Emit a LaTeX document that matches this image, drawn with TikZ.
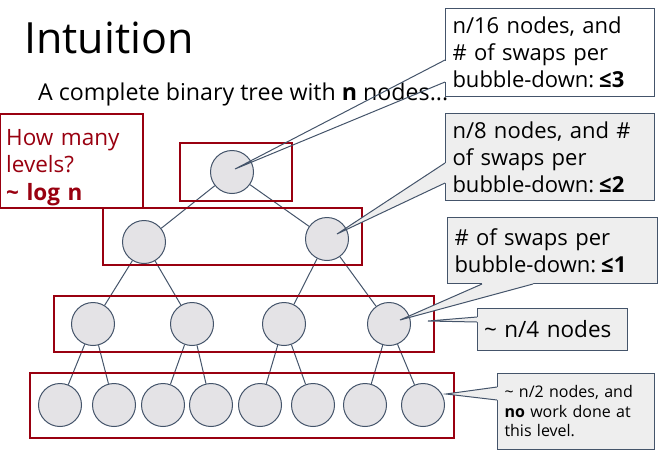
\documentclass[tikz,border=0pt]{standalone}
\usepackage{fontspec}
\setmainfont{Open Sans}
\usetikzlibrary{calc, positioning}
\definecolor{berry}{HTML}{990010}
\definecolor{slate}{HTML}{44546A}
\definecolor{bubble}{HTML}{E4E3E6}
\definecolor{notefill}{HTML}{EEEEEE}
\tikzset{
  treenode/.style={circle, draw=slate, line width=1pt, fill=bubble, minimum size=43pt, inner sep=0pt},
  levelbox/.style={draw=berry, line width=2.4pt},
  branch/.style={draw=slate, line width=1pt},
  notebox/.style={draw=slate, line width=1pt, fill=notefill, anchor=north west, align=left,
    inner xsep=7pt, inner ysep=0pt, font=\fontsize{22}{27}\selectfont},
  tail/.style={draw=slate, line width=1pt, line join=miter}
}

\begin{document}
\begin{tikzpicture}[x=1pt, y=-1pt]
  \useasboundingbox (0,0) rectangle (666,453);

  % title and subtitle
  \node[anchor=base west, inner sep=0pt, font=\fontsize{43}{50}\selectfont] (title) at (24,53) {Intuition};
  \node[anchor=base west, inner sep=0pt, font=\fontsize{23.2}{28}\selectfont] (sub) at (38,100)
    {A complete binary tree with \textbf{n} nodes...};

  % tree
  \node[treenode] (r) at (232,172) {};
  \node[treenode] (a1) at (144,242) {};
  \node[treenode] (a2) at (327,239) {};
  \foreach \x [count=\i] in {93,192,284,389}
    \node[treenode] (b\i) at (\x,324) {};
  \foreach \x [count=\i] in {60,114,163,211,260,313,365,423}
    \node[treenode] (c\i) at (\x,405) {};
  \foreach \p/\c in {r/a1, r/a2, a1/b1, a1/b2, a2/b3, a2/b4,
      b1/c1, b1/c2, b2/c3, b2/c4, b3/c5, b3/c6, b4/c7, b4/c8}
    \draw[branch] (\p) -- (\c);

  % one box per level
  \draw[levelbox] (180,143) rectangle (292,201);
  \draw[levelbox] (103,208) rectangle (362,265);
  \draw[levelbox] (54,296) rectangle (434,352);
  \draw[levelbox] (30,373) rectangle (454,438);

  \node[draw=berry, line width=2.4pt, fill=white, anchor=north west, minimum height=94pt,
    text width=131pt, inner xsep=6pt, inner ysep=0pt, align=left, text=berry,
    font=\fontsize{22.5}{27.5}\selectfont] (levels) at (-1,113)
    {\rule{0pt}{28pt}How many\\levels?\\\textbf{\textasciitilde{} log n}};

  % callouts
  \node[notebox, fill=white, minimum height=88pt, text width=195pt] (n16) at (445,8)
    {n/16 nodes, and\\\# of swaps per\\bubble-down:\hspace{5pt}\textbf{≤3}};
  \node[notebox, minimum height=87pt, text width=195pt] (n8) at (445,113)
    {n/8 nodes, and \#\\of swaps per\\bubble-down:\hspace{5pt}\textbf{≤2}};
  \node[notebox, minimum height=66pt, text width=196pt] (n4swap) at (447,217)
    {\# of swaps per\\bubble-down:\hspace{5pt}\textbf{≤1}};
  \node[notebox, minimum height=42pt, text width=137pt, inner xsep=6.5pt,
    font=\fontsize{22.5}{27}\selectfont] (n4) at (477,308)
    {\textasciitilde{} n/4 nodes};
  \node[notebox, minimum height=76pt, text width=143pt, font=\fontsize{16}{19.5}\selectfont] (n2) at (497,373)
    {\textasciitilde{} n/2 nodes, and\\\textbf{no} work done at\\this level.};

  % pointer ends
  \coordinate (t16) at (235,169);
  \coordinate (t8) at (337,234);
  \coordinate (t4swap) at (400,320);
  \coordinate (t4) at (428,321);
  \coordinate (t2) at (446,394);

  % tails
  \fill[white] ($(n16.north west)+(-1,52.5)$) rectangle ($(n16.north west)+(1.5,73.5)$);
  \draw[tail] ($(n16.north west)+(0,52)$) -- (t16) -- ($(n16.north west)+(0,74)$);

  \fill[notefill] ($(n8.north west)+(1.5,50)$) -- ($(n8.north west)+(0,50)$) -- (t8)
    -- ($(n8.north west)+(0,70)$) -- ($(n8.north west)+(1.5,70)$) -- cycle;
  \draw[tail] ($(n8.north west)+(0,50)$) -- (t8) -- ($(n8.north west)+(0,70)$);

  \fill[notefill] ($(n4swap.south west)+(35,-1.5)$) -- ($(n4swap.south west)+(35,0)$) -- (t4swap)
    -- ($(n4swap.south west)+(86,0)$) -- ($(n4swap.south west)+(86,-1.5)$) -- cycle;
  \draw[tail] ($(n4swap.south west)+(35,0)$) -- (t4swap) -- ($(n4swap.south west)+(86,0)$);

  \fill[notefill] ($(n4.north west)+(1.5,9)$) -- ($(n4.north west)+(0,9)$) -- (t4)
    -- ($(n4.north west)+(0,14)$) -- ($(n4.north west)+(1.5,14)$) -- cycle;
  \draw[tail] ($(n4.north west)+(0,9)$) -- (t4) -- ($(n4.north west)+(0,14)$);

  \fill[notefill] ($(n2.north west)+(1.5,14)$) -- ($(n2.north west)+(0,14)$) -- (t2)
    -- ($(n2.north west)+(0,27)$) -- ($(n2.north west)+(1.5,27)$) -- cycle;
  \draw[tail] ($(n2.north west)+(0,14)$) -- (t2) -- ($(n2.north west)+(0,27)$);
\end{tikzpicture}
\end{document}
